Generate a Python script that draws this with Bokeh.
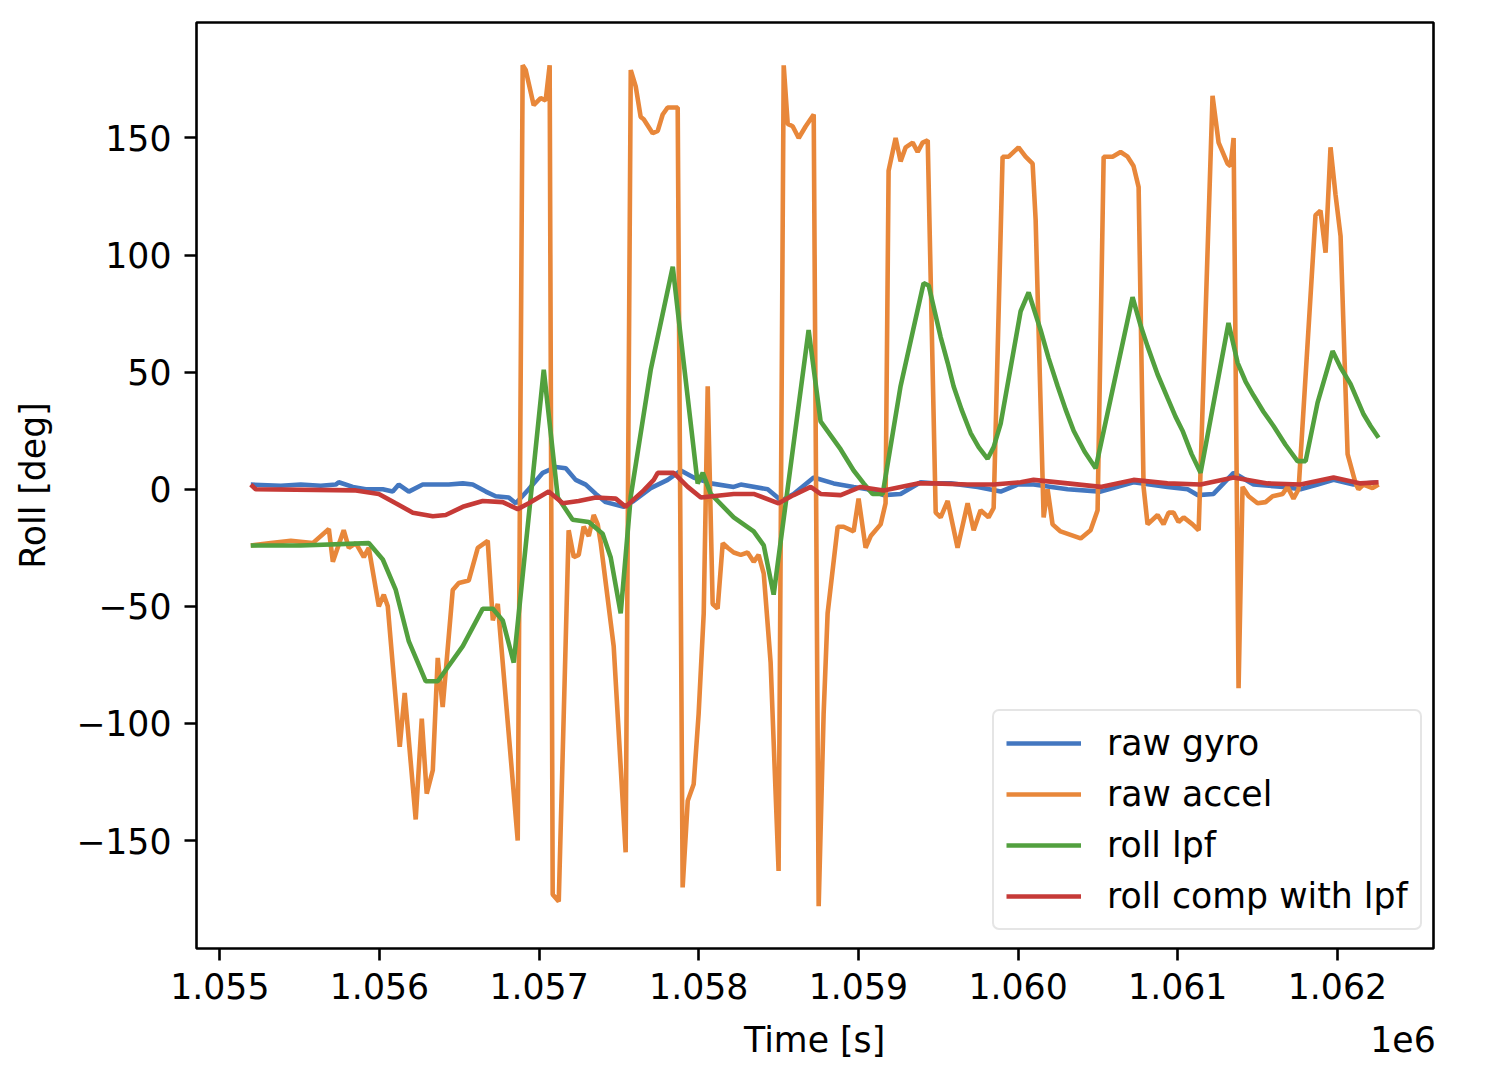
from bokeh.plotting import figure
from bokeh.models import (FixedTicker, CustomJSTickFormatter, Legend, LegendItem,
                          LinearAxis, Range1d)
from bokeh.embed import file_html
from bokeh.resources import INLINE

# ---------------- data ----------------
gyro_t = [1055194, 1055382, 1055507, 1055632, 1055726, 1055745, 1055833, 1055914, 1056021, 1056083,
          1056121, 1056184, 1056271, 1056434, 1056522, 1056584, 1056666, 1056728, 1056810, 1056854,
          1056935, 1057023, 1057104, 1057167, 1057229, 1057292, 1057355, 1057417, 1057530, 1057592,
          1057699, 1057805, 1057887, 1057968, 1058075, 1058219, 1058263, 1058432, 1058494, 1058513,
          1058594, 1058720, 1058845, 1058970, 1059058, 1059158, 1059264, 1059390, 1059471, 1059578,
          1059747, 1059891, 1059997, 1060097, 1060310, 1060517, 1060723, 1060936, 1061062, 1061124,
          1061224, 1061350, 1061475, 1061663, 1061769, 1061876, 1061976, 1062101, 1062252]
gyro_v = [2, 1.5, 2, 1.5, 2, 3, 1, 0, 0, -1,
          2, -1, 2, 2, 2.5, 2, -1, -3, -3.5, -6,
          0, 7, 9.5, 9, 4, 2, -2, -5.5, -7.5, -5,
          0.5, 4, 8, 5, 2.5, 1, 2, 0, -3.5, -5,
          -2, 5, 2.5, 1, 0, -2.5, -2, 3, 2.5, 2.5,
          1, -1, 2, 2, 0, -1, 3, 1, 0, -2.5,
          -2, 7, 2, 1, 0, 2, 4, 2, 3]

accel_t = [1055194, 1055319, 1055445, 1055582, 1055683, 1055708, 1055776, 1055808, 1055852, 1055902,
           1055933, 1055996, 1056027, 1056052, 1056127, 1056158, 1056227, 1056265, 1056296, 1056334,
           1056365, 1056396, 1056459, 1056497, 1056559, 1056616, 1056678, 1056710, 1056741, 1056866,
           1056897, 1056916, 1056966, 1057010, 1057041, 1057066, 1057085, 1057123, 1057185, 1057217,
           1057248, 1057279, 1057311, 1057342, 1057367, 1057386, 1057467, 1057542, 1057574, 1057605,
           1057636, 1057655, 1057711, 1057743, 1057774, 1057805, 1057868, 1057899, 1057931, 1057968,
           1057999, 1058031, 1058056, 1058087, 1058118, 1058150, 1058181, 1058219, 1058263, 1058306,
           1058344, 1058375, 1058407, 1058450, 1058500, 1058532, 1058557, 1058588, 1058626, 1058670,
           1058720, 1058751, 1058782, 1058807, 1058870, 1058907, 1058970, 1059001, 1059045, 1059077,
           1059139, 1059170, 1059189, 1059233, 1059264, 1059296, 1059340, 1059371, 1059402, 1059434,
           1059484, 1059515, 1059559, 1059621, 1059684, 1059722, 1059765, 1059815, 1059847, 1059903,
           1059941, 1060003, 1060047, 1060091, 1060110, 1060160, 1060185, 1060216, 1060266, 1060392,
           1060454, 1060498, 1060536, 1060592, 1060642, 1060686, 1060723, 1060755, 1060786, 1060811,
           1060874, 1060911, 1060943, 1060974, 1061005, 1061037, 1061093, 1061131, 1061218, 1061256,
           1061312, 1061331, 1061350, 1061381, 1061406, 1061444, 1061500, 1061550, 1061594, 1061657,
           1061688, 1061725, 1061757, 1061863, 1061894, 1061926, 1061957, 1061988, 1062020, 1062064,
           1062114, 1062132, 1062164, 1062220, 1062258]
accel_v = [-24, -23, -22, -23, -17, -31, -17.5, -25, -23, -29,
           -25, -50, -45, -50, -110, -87, -141, -98, -130, -120,
           -72, -93, -43, -40, -39, -25, -22, -56, -49, -150,
           181, 179, 164, 167, 166, 181, -173, -176, -17.5, -29,
           -28, -16, -20, -11, -15, -23, -67, -155, 179, 172,
           159, 158, 152, 153, 160, 163, 163, -170, -133, -126,
           -96, -53, 44, -49, -51, -23, -25, -27, -28, -27,
           -31, -28, -36, -74, -163, 181, 156, 155, 150, 155,
           160, -178, -96, -53, -16, -16, -18, -4, -25, -20,
           -15, -6, 136, 150, 140, 146, 148, 144, 148, 149,
           -10, -12, -5, -25, -6, -17.5, -9, -12, -8, 142,
           142, 146, 142, 139, 115, -12, 0, -15, -18, -21,
           -17.5, -9, 142, 142, 144, 142, 138, 129, 1, -15,
           -11, -15, -10, -10, -14, -12, -15, -17.5, 168, 148,
           139, 138, 150, -85, 1, -3, -6, -5.5, -3, -2,
           1, -4, 0, 117, 119, 101, 146, 126, 108, 15,
           2.5, 0, 2, 0.5, 2]

lpf_t = [1055194, 1055507, 1055933, 1056021, 1056102, 1056184, 1056290, 1056365, 1056522, 1056647,
         1056710, 1056772, 1056841, 1057029, 1057117, 1057210, 1057311, 1057398, 1057448, 1057511,
         1057574, 1057699, 1057837, 1057887, 1057993, 1058025, 1058075, 1058219, 1058344, 1058407,
         1058469, 1058688, 1058763, 1058826, 1058889, 1058970, 1059033, 1059089, 1059152, 1059264,
         1059408, 1059440, 1059515, 1059559, 1059596, 1059646, 1059703, 1059753, 1059809, 1059847,
         1059891, 1060016, 1060066, 1060141, 1060191, 1060248, 1060298, 1060348, 1060417, 1060486,
         1060717, 1060767, 1060811, 1060874, 1060936, 1060986, 1061030, 1061087, 1061143, 1061318,
         1061375, 1061425, 1061475, 1061538, 1061600, 1061675, 1061750, 1061801, 1061876, 1061970,
         1062020, 1062082, 1062164, 1062208, 1062258]
lpf_v = [-24, -24, -23, -30, -43, -65, -82, -82, -67, -51,
         -51, -56, -74, 51, -3.5, -13, -14, -19, -29, -53,
         -3, 51, 95, 65, 2.5, 7, -2, -12, -18, -24,
         -45, 68, 29, 23, 17, 8, 2.5, -2, -2, 44,
         88, 87, 65, 54, 44, 34, 24, 18, 13, 18,
         28, 76, 84, 68, 56, 44, 34, 25, 16, 9,
         82, 70, 61, 49, 39, 31, 25, 15, 7, 71,
         54, 46, 40, 33, 27, 19, 12, 12, 37, 59,
         52, 45, 32, 27, 22]

comp_t = [1055194, 1055225, 1055852, 1055996, 1056102, 1056209, 1056334, 1056415, 1056522, 1056647,
          1056772, 1056866, 1056935, 1057060, 1057148, 1057248, 1057355, 1057480, 1057542, 1057655,
          1057718, 1057743, 1057843, 1057931, 1058013, 1058219, 1058344, 1058500, 1058594, 1058701,
          1058763, 1058889, 1059014, 1059158, 1059371, 1059471, 1059684, 1059847, 1060016, 1060097,
          1060310, 1060517, 1060723, 1060936, 1061143, 1061350, 1061563, 1061769, 1061976, 1062145,
          1062258]
comp_v = [2, 0, -0.5, -2, -6, -10, -11.5, -11, -7.5, -5,
          -5.5, -8.5, -6, -1, -6, -5, -3.5, -4, -7.5, -0.5,
          4, 7, 7, 1, -3.5, -2, -2, -6, -2.5, 1,
          -2, -2.5, 1, -0.5, 2.5, 2.5, 2, 2, 3, 4,
          2.5, 1, 4, 2.5, 2, 5, 2.5, 2, 5, 2.5,
          3]

series_names = ["raw gyro", "raw accel", "roll lpf", "roll comp with lpf"]
x_ticks = [1055000, 1056000, 1057000, 1058000, 1059000, 1060000, 1061000, 1062000]
y_ticks = [-150, -100, -50, 0, 50, 100, 150]
x_title = "Time [s]"
y_title = "Roll [deg]"
x_offset_text = "1e6"

# ---------------- styling ----------------
FONT = "DejaVu Sans"
FS = "34.7px"
colors = ["#4377c0", "#e8873a", "#52a03e", "#c63a37"]
X0, X1 = 1054854, 1062602
Y0, Y1 = -196.1, 199.3

p = figure(width=1495, height=1085, output_backend="svg", toolbar_location=None,
           x_range=Range1d(X0, X1), y_range=Range1d(Y0, Y1),
           min_border_left=196, min_border_right=62, min_border_top=22, min_border_bottom=137)
p.background_fill_color = "white"
p.border_fill_color = "white"
p.grid.visible = False
p.outline_line_color = "black"
p.outline_line_width = 2.6
p.outline_line_alpha = 1.0

p.xaxis.ticker = FixedTicker(ticks=x_ticks)
p.yaxis.ticker = FixedTicker(ticks=y_ticks)
p.xaxis.formatter = CustomJSTickFormatter(code="return (tick/1e6).toFixed(3);")
p.yaxis.formatter = CustomJSTickFormatter(
    code="return tick < 0 ? '\u2212' + Math.abs(tick) : String(tick);")


def style_axis(ax):
    ax.axis_line_color = None
    ax.major_tick_out = 12
    ax.major_tick_in = 0
    ax.major_tick_line_width = 2.6
    ax.major_tick_line_color = "black"
    ax.minor_tick_line_color = None
    ax.major_label_text_font = FONT
    ax.major_label_text_font_size = FS
    ax.major_label_text_color = "black"
    ax.axis_label_text_font = FONT
    ax.axis_label_text_font_size = FS
    ax.axis_label_text_font_style = "normal"
    ax.axis_label_text_color = "black"


style_axis(p.xaxis[0])
style_axis(p.yaxis[0])
p.yaxis.axis_label = y_title
p.xaxis.major_label_standoff = 12
p.yaxis.major_label_standoff = 13
p.yaxis.axis_label_standoff = 20

# second row below the x tick labels: the axis title and the "1e6" offset text,
# placed at the same height as in the reference
t_title = X0 + (814 - 195.7) / 1237.3 * (X1 - X0)
t_offset = X0 + (1402.5 - 195.7) / 1237.3 * (X1 - X0)
title_axis = LinearAxis(ticker=FixedTicker(ticks=[t_title, t_offset]),
                        formatter=CustomJSTickFormatter(
                            args=dict(split=(t_title + t_offset) / 2, a=x_title, b=x_offset_text),
                            code="return tick < split ? a : b;"))
style_axis(title_axis)
title_axis.major_tick_out = 0
title_axis.major_tick_line_color = None
title_axis.major_label_standoff = 18
p.add_layout(title_axis, "below")

LW = 4.6
r1 = p.line(gyro_t, gyro_v, line_color=colors[0], line_width=LW)
r2 = p.line(accel_t, accel_v, line_color=colors[1], line_width=LW)
r3 = p.line(lpf_t, lpf_v, line_color=colors[2], line_width=LW)
r4 = p.line(comp_t, comp_v, line_color=colors[3], line_width=LW)

legend = Legend(items=[LegendItem(label=n, renderers=[r]) for n, r in
                       zip(series_names, [r1, r2, r3, r4])],
                location=(796, 18))
legend.label_text_font = FONT
legend.label_text_font_size = FS
legend.label_text_color = "black"
legend.glyph_width = 75
legend.glyph_height = 34
legend.label_height = 34
legend.label_standoff = 26
legend.spacing = 11
legend.padding = 12
legend.margin = 0
legend.border_line_color = "#cccccc"
legend.border_line_width = 2
legend.background_fill_color = "white"
legend.background_fill_alpha = 0.8
if "border_radius" in Legend.properties():
    legend.border_radius = 7
p.add_layout(legend)

open("out.html", "w").write(file_html(p, INLINE))
